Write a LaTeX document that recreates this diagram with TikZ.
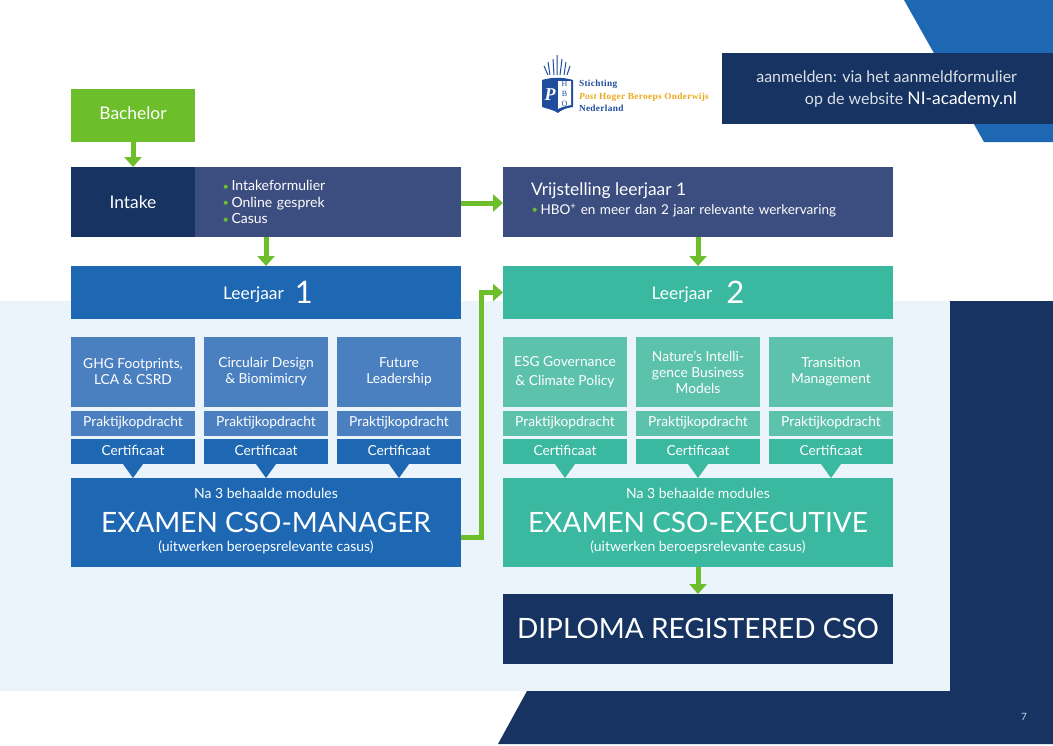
\documentclass[tikz,border=0pt]{standalone}
\usepackage{fontspec}
\setmainfont{Lato}
\newfontfamily\logofont[LetterSpace=3.5]{Liberation Serif}
\usetikzlibrary{positioning,arrows.meta}
\definecolor{navy}{HTML}{163361}
\definecolor{slate}{HTML}{3C4E80}
\definecolor{accent}{HTML}{1E68B3}
\definecolor{accentlt}{HTML}{4A80C0}
\definecolor{teal}{HTML}{3AB8A0}
\definecolor{teallt}{HTML}{5CC2AB}
\definecolor{leaf}{HTML}{6CBE2A}
\definecolor{soft}{HTML}{EBF4FA}
\definecolor{gold}{HTML}{E9A91C}
\definecolor{crest}{HTML}{1F4C9C}
\newcommand{\szA}{\fontsize{13.8}{16}\selectfont}
\newcommand{\szB}{\fontsize{17.4}{20}\selectfont}
\newcommand{\szC}{\fontsize{28}{32}\selectfont}
\newcommand{\szD}{\fontsize{31}{32}\selectfont}
\newcommand{\lift}[1]{\rule[-#1]{0pt}{#1}}
\newcommand{\dotitem}{\makebox[9.5pt][l]{\hspace{.5pt}\color{leaf}\fontsize{11}{11}\selectfont\raisebox{.5pt}{\textbullet}}}
\tikzset{
  box/.style={rectangle,inner sep=0pt,outer sep=0pt,align=center,text=white,font=\szA},
  bach/.style={box,fill=leaf,minimum width=124pt,minimum height=53pt,font=\szB},
  year/.style={box,minimum width=390pt,minimum height=53pt,font=\szB},
  modI/.style={box,fill=accentlt,minimum width=124pt,minimum height=70pt},
  pracI/.style={box,fill=accentlt,minimum width=124pt,minimum height=25pt},
  certI/.style={box,fill=accent,minimum width=124pt,minimum height=25pt},
  modII/.style={box,fill=teallt,minimum width=124pt,minimum height=70pt},
  pracII/.style={box,fill=teallt,minimum width=124pt,minimum height=25pt},
  certII/.style={box,fill=teal,minimum width=124pt,minimum height=25pt},
  exam/.style={box,minimum width=390pt,minimum height=89pt,font=\fontsize{14}{16}\selectfont},
  fl/.style={-{Triangle[length=10pt,width=17pt]},draw=leaf,line width=5pt},
}
\begin{document}
\begin{tikzpicture}[x=1pt,y=-1pt]
  \useasboundingbox (0,0) rectangle (1053,745);
  % page background
  \fill[accent] (904,0) -- (1053,0) -- (1053,142) -- (984,142) -- cycle;
  \fill[soft] (0,301) rectangle (950,691);
  \fill[navy] (950,301) -- (1053,301) -- (1053,744) -- (498,744) -- (527,691) -- (950,691) -- cycle;
  \node[box,fill=navy,minimum width=331pt,minimum height=71pt,anchor=north west] (signup) at (722,53) {};
  \node[box,anchor=east,align=right,font=\fontsize{16}{22.5}\selectfont,text=white!85!navy]
    (signuptxt) at ([xshift=-36pt,yshift=-0.5pt]signup.east)
    {aanmelden: via het aanmeldformulier\\op de website {\color{white}\fontsize{17.4}{22.5}\selectfont NI-academy.nl}};
  \node[box,text=white!75!accent,font=\fontsize{10}{12}\selectfont] (page) at (1024,717) {7};

  % logo
  \fill[crest] (542,80) .. controls (552,77) and (563,77) .. (573,80) -- (573,107) .. controls (566,108) and (561,110) .. (558,113) .. controls (554,110) and (548,109) .. (542,107) -- cycle;
  \fill[white] (558,81) -- (571,81) -- (571,105) .. controls (566,106) and (561,107) .. (558,109) -- cycle;
  \draw[crest,line width=1pt] (548,75) -- (544,66) (550,75) -- (548,62) (554,75) -- (553,59) (557,75) -- (557,55) (560,75) -- (562,59) (564,75) -- (566,62) (567,75) -- (570,66);
  \node[box,text=white,font=\logofont\bfseries\itshape\fontsize{18}{18}\selectfont] (logop) at (550,95) {P};
  \node[box,text=crest,font=\logofont\fontsize{8}{10}\selectfont] (logohbo) at (564.5,94) {H\\B\\O};
  \node[box,anchor=west,align=left,text=crest,font=\logofont\bfseries\fontsize{9.3}{12.5}\selectfont] (logotxt) at (579,96)
    {Stichting\\{\color{gold}\itshape Post \upshape Hoger Beroeps Onderwijs}\\Nederland};

  % left column
  \node[bach,anchor=north west] (bachelor) at (71,89) {Bachelor\lift{5.5pt}};
  \node[box,fill=navy,minimum width=124pt,minimum height=70pt,font=\szB,below=25pt of bachelor] (intake) {Intake};
  \node[box,fill=slate,minimum width=266pt,minimum height=70pt,right=0pt of intake,
    align=left,text width=212pt,font=\fontsize{14}{16.5}\selectfont] (intakelist)
    {\dotitem Intakeformulier\\\dotitem Online gesprek\\\dotitem Casus};
  \node[year,fill=accent,anchor=north west] (leerI) at (71,266)
    {\hspace*{4pt}\raisebox{1pt}{Leerjaar}\hspace{11pt}\raisebox{-3pt}{\szD 1}};
  \node[modI,anchor=north west] (modA) at (71,337) {GHG Footprints,\\LCA \& CSRD};
  \node[modI,right=9pt of modA] (modB) {Circulair Design\\\& Biomimicry};
  \node[modI,right=9pt of modB] (modC) {Future\\Leadership};
  \node[pracI,below=4pt of modA] (pracA) {Praktijkopdracht\lift{5pt}};
  \node[pracI,below=4pt of modB] (pracB) {Praktijkopdracht\lift{5pt}};
  \node[pracI,below=4pt of modC] (pracC) {Praktijkopdracht\lift{5pt}};
  \node[certI,below=3pt of pracA] (certA) {Certificaat\lift{3pt}};
  \node[certI,below=3pt of pracB] (certB) {Certificaat\lift{3pt}};
  \node[certI,below=3pt of pracC] (certC) {Certificaat\lift{3pt}};
  \node[exam,fill=accent,anchor=north west] (examI) at (71,478)
    {Na 3 behaalde modules\\[13pt]{\szC EXAMEN CSO-MANAGER}\\[3pt](uitwerken beroepsrelevante casus)\lift{5.5pt}};

  % right column
  \node[box,fill=slate,minimum width=390pt,minimum height=70pt,anchor=north west,align=left,
    text width=334pt,font=\fontsize{13.5}{16}\selectfont] (vrij) at (503,167)
    {{\szB Vrijstelling leerjaar 1}\\[3pt]\dotitem HBO\textsuperscript{+} en meer dan 2 jaar relevante werkervaring\lift{7pt}};
  \node[year,fill=teal,anchor=north west] (leerII) at (503,266)
    {\raisebox{1pt}{Leerjaar}\hspace{14pt}\raisebox{-3pt}{\szD 2}};
  \node[modII,anchor=north west] (modD) at (503,337) {ESG Governance\\[3pt]\& Climate Policy};
  \node[modII,right=9pt of modD] (modE) {Nature's Intelli-\\gence Business\\Models};
  \node[modII,right=9pt of modE] (modF) {Transition\\Management};
  \node[pracII,below=4pt of modD] (pracD) {Praktijkopdracht\lift{5pt}};
  \node[pracII,below=4pt of modE] (pracE) {Praktijkopdracht\lift{5pt}};
  \node[pracII,below=4pt of modF] (pracF) {Praktijkopdracht\lift{5pt}};
  \node[certII,below=3pt of pracD] (certD) {Certificaat\lift{3pt}};
  \node[certII,below=3pt of pracE] (certE) {Certificaat\lift{3pt}};
  \node[certII,below=3pt of pracF] (certF) {Certificaat\lift{3pt}};
  \node[exam,fill=teal,anchor=north west] (examII) at (503,478)
    {Na 3 behaalde modules\\[13pt]{\szC EXAMEN CSO-EXECUTIVE}\\[3pt](uitwerken beroepsrelevante casus)\lift{5.5pt}};
  \node[box,fill=navy,minimum width=390pt,minimum height=70pt,font=\szC,below=27pt of examII] (diploma) {DIPLOMA REGISTERED CSO\lift{2pt}};

  % certificate tips
  \fill[accent] ([xshift=-10pt]certA.south) -- ([xshift=10pt]certA.south) -- (certA.south |- examI.north) -- cycle;
  \fill[accent] ([xshift=-10pt]certB.south) -- ([xshift=10pt]certB.south) -- (certB.south |- examI.north) -- cycle;
  \fill[accent] ([xshift=-10pt]certC.south) -- ([xshift=10pt]certC.south) -- (certC.south |- examI.north) -- cycle;
  \fill[teal] ([xshift=-10pt]certD.south) -- ([xshift=10pt]certD.south) -- (certD.south |- examII.north) -- cycle;
  \fill[teal] ([xshift=-10pt]certE.south) -- ([xshift=10pt]certE.south) -- (certE.south |- examII.north) -- cycle;
  \fill[teal] ([xshift=-10pt]certF.south) -- ([xshift=10pt]certF.south) -- (certF.south |- examII.north) -- cycle;

  % arrows
  \draw[fl] (bachelor)--(intake);
  \draw[fl] (leerI.north |- intakelist.south)--(leerI.north);
  \draw[fl] ([yshift=-1pt]intakelist.east)--([yshift=-1pt]vrij.west);
  \draw[fl] (vrij)--(leerII);
  \draw[fl] ([yshift=-15pt]examI.east)-- ++(20.5,0) |- (leerII.west);
  \draw[fl] (examII)--(diploma);
\end{tikzpicture}
\end{document}
